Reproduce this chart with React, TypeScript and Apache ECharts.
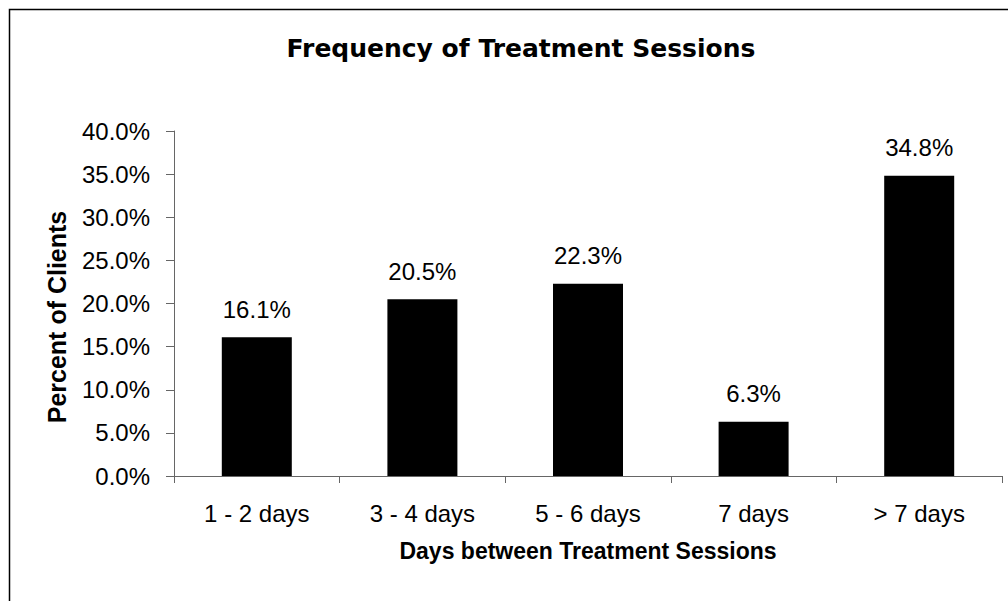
import React, { useEffect, useRef } from "react";
import * as echarts from "echarts";

const categories = ["1 - 2 days", "3 - 4 days", "5 - 6 days", "7 days", "> 7 days"];
const percentValues = [16.1, 20.5, 22.3, 6.3, 34.8];
const yTicks = { min: 0, max: 40, interval: 5 };

const titleText = "Frequency of Treatment Sessions";
const xAxisTitle = "Days between Treatment Sessions";
const yAxisTitle = "Percent of Clients";

const FONT = "'Liberation Sans', Arial, sans-serif";
const TITLE_FONT = "'DejaVu Sans', 'Liberation Sans', sans-serif";

export default function App() {
  const ref = useRef<HTMLDivElement>(null);
  useEffect(() => {
    if (!ref.current) return;
    const chart = echarts.init(ref.current, undefined, { renderer: "svg" });
    chart.setOption({
      animation: false,
      backgroundColor: "#ffffff",
      textStyle: { fontFamily: FONT },
      title: {
        text: titleText,
        left: 516,
        top: 31,
        textAlign: "center",
        textStyle: { fontFamily: TITLE_FONT, fontWeight: "bold", fontSize: 25, color: "#000" },
      },
      graphic: [
        {
          type: "rect",
          shape: { x: 9.5, y: 9.5, width: 1200, height: 800 },
          style: { fill: "none", stroke: "#000", lineWidth: 1.5 },
          silent: true,
        },
        {
          type: "text",
          x: 57,
          y: 317,
          rotation: Math.PI / 2,
          style: {
            text: yAxisTitle,
            font: `bold 25px ${FONT}`,
            fill: "#000",
            align: "center",
            verticalAlign: "middle",
          },
        },
        {
          type: "text",
          x: 588,
          y: 551,
          style: {
            text: xAxisTitle,
            font: `bold 23px ${FONT}`,
            fill: "#000",
            align: "center",
            verticalAlign: "middle",
          },
        },
      ],
      grid: { left: 174, right: 6, top: 131, bottom: 125, containLabel: false },
      xAxis: {
        type: "category",
        data: categories,
        axisLine: { lineStyle: { color: "#666", width: 1 } },
        axisTick: { show: true, length: 7, lineStyle: { color: "#666" } },
        axisLabel: { margin: 25, fontSize: 24, color: "#000", fontFamily: FONT },
        splitLine: { show: false },
      },
      yAxis: {
        type: "value",
        min: yTicks.min,
        max: yTicks.max,
        interval: yTicks.interval,
        axisLine: { show: true, lineStyle: { color: "#666", width: 1 } },
        axisTick: { show: true, length: 8, lineStyle: { color: "#666" } },
        axisLabel: {
          margin: 24,
          fontSize: 24,
          color: "#000",
          fontFamily: FONT,
          formatter: (v: number) => v.toFixed(1) + "%",
        },
        splitLine: { show: false },
      },
      series: [
        {
          type: "bar",
          data: percentValues,
          barWidth: 70,
          itemStyle: { color: "#000" },
          label: {
            show: true,
            position: "top",
            distance: 16,
            fontSize: 24,
            color: "#000",
            fontFamily: FONT,
            formatter: (p: any) => Number(p.value).toFixed(1) + "%",
          },
        },
      ],
    });
    return () => chart.dispose();
  }, []);
  return (
    <div
      ref={ref}
      style={{ position: "absolute", left: 0, top: 0, width: 1008, height: 601 }}
    />
  );
}
